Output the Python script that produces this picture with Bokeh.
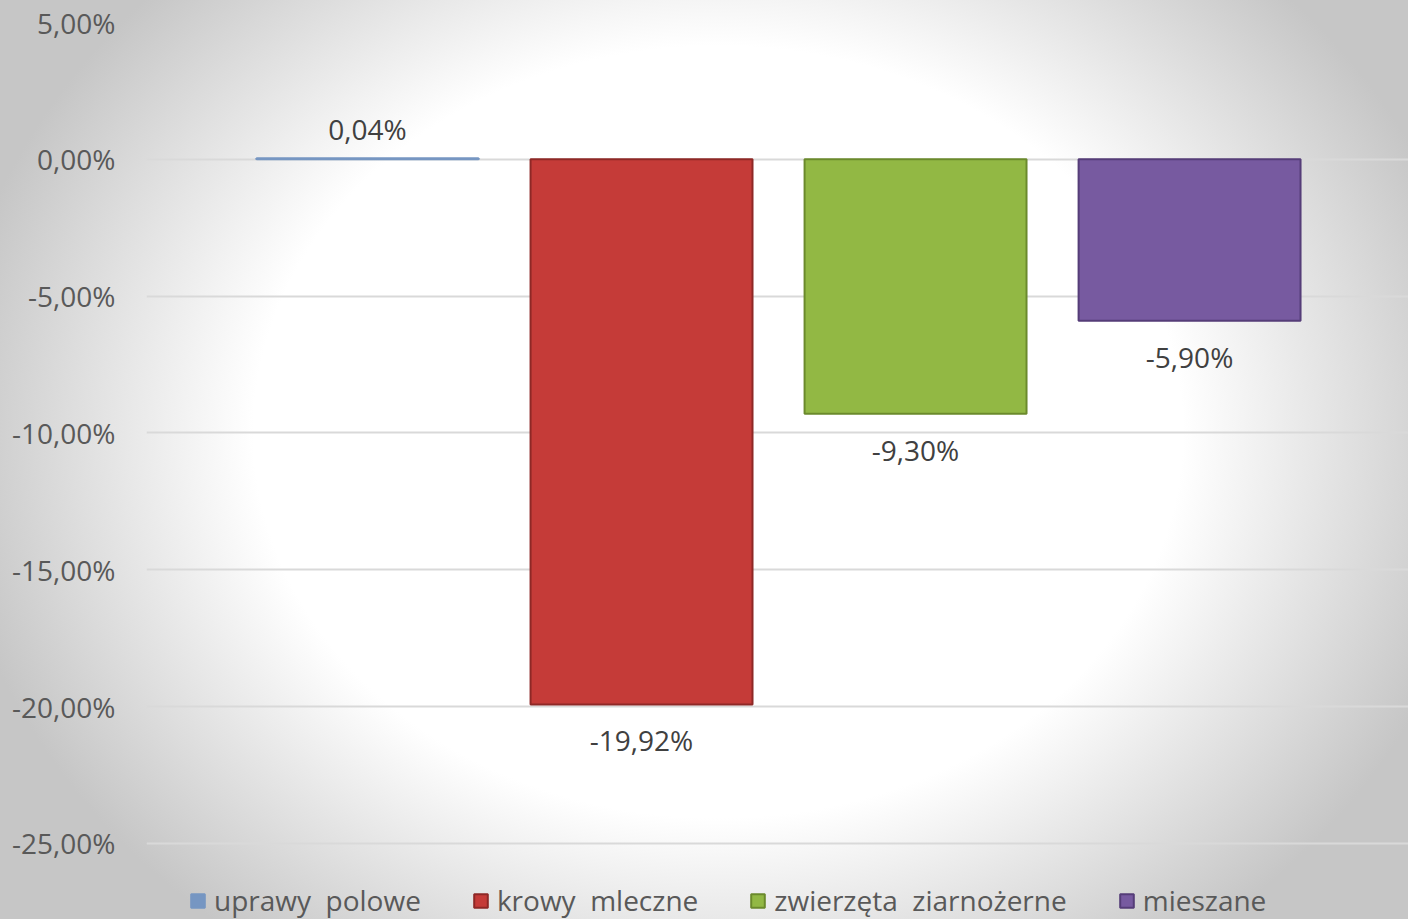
from bokeh.plotting import figure
from bokeh.models import (ColumnDataSource, FixedTicker, CustomJSTickFormatter,
                          LabelSet, Legend, LegendItem, Range1d)
from bokeh.core.properties import value
from bokeh.embed import file_html
from bokeh.resources import INLINE

# ---- data ----
categories = ["uprawy  polowe", "krowy  mleczne", "zwierzęta  ziarnożerne", "mieszane"]
values = [0.04, -19.92, -9.30, -5.90]
colors = ["#7696c2", "#c53b38", "#92b844", "#775aa0"]
line_colors = ["#7696c2", "#8e2826", "#6b8a2c", "#553d78"]
y_ticks = [-25, -20, -15, -10, -5, 0, 5]

xs = [i + 1 for i in range(len(categories))]
labels = [("%.2f" % v).replace(".", ",") + "%" for v in values]
offsets = [29 if v >= 0 else -36 for v in values]

src = ColumnDataSource(dict(x=xs, top=values, cat=categories, color=colors,
                            lc=line_colors, label=labels, off=offsets))

FONT = "Open Sans"

# frame spans to the bottom edge; the extra room below -25% holds the legend
p = figure(width=1408, height=919, output_backend="svg", toolbar_location=None,
           x_range=Range1d(0.1934, 4.799), y_range=Range1d(-27.78, 5),
           min_border_left=146, min_border_right=0, min_border_top=22,
           min_border_bottom=0)
p.styles = {"background": "radial-gradient(ellipse 55% 70% at 51% 47%, #ffffff 0%, #ffffff 60%, #c6c6c6 100%)"}
p.background_fill_alpha = 0
p.border_fill_alpha = 0
p.outline_line_color = None

r = p.vbar(x="x", top="top", bottom=0, width=0.81, source=src,
           fill_color="color", line_color="lc", line_width=2)

p.xaxis.visible = False
p.xgrid.visible = False
p.ygrid.grid_line_color = "#d9d9d9"
p.ygrid.grid_line_width = 2

ax = p.yaxis[0]
ax.ticker = FixedTicker(ticks=y_ticks)
ax.formatter = CustomJSTickFormatter(code="return tick.toFixed(2).replace('.', ',') + '%';")
ax.axis_line_color = None
ax.major_tick_line_color = None
ax.minor_tick_line_color = None
ax.major_label_standoff = 25
ax.major_label_text_font = FONT
ax.major_label_text_font_size = "28px"
ax.major_label_text_color = "#595959"

lbl = LabelSet(x="x", y="top", text="label", y_offset="off", source=src,
               text_align="center", text_baseline="middle",
               text_font=value(FONT), text_font_size=value("28px"), text_color="#404040")
p.add_layout(lbl)

items = [LegendItem(label=c, renderers=[r], index=i) for i, c in enumerate(categories)]
legend = Legend(items=items, orientation="horizontal", location=(43, 0),
                label_text_font=FONT, label_text_font_size="28px",
                label_text_color="#595959", glyph_width=17, glyph_height=17,
                label_standoff=8, spacing=51, padding=0, margin=0,
                background_fill_alpha=0, border_line_color=None)
p.add_layout(legend)

open("out.html", "w").write(file_html(p, INLINE))
